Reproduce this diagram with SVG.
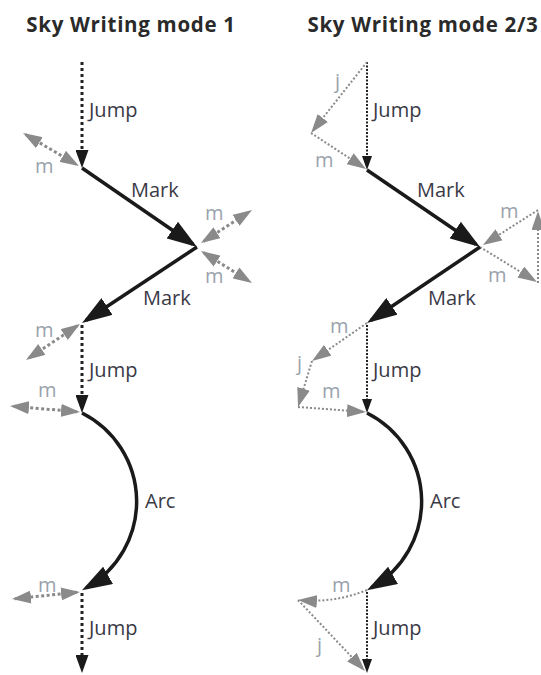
<svg xmlns="http://www.w3.org/2000/svg" width="541" height="675" viewBox="0 0 541 675">
<style>
  .ttl { font-family: "Open Sans", "Liberation Sans", sans-serif; font-weight: bold; font-size: 20.5px; letter-spacing: 0.7px; fill: #2a2a2a; }
  .lbl { font-family: "Open Sans", "Liberation Sans", sans-serif; font-size: 20px; fill: #3a3a46; }
  .sm { font-family: "Open Sans", "Liberation Sans", sans-serif; font-size: 20px; fill: #9aa2ac; }
  .jump1 { fill: none; stroke: #222; stroke-width: 3; stroke-dasharray: 3 3; }
  .jump2 { fill: none; stroke: #222; stroke-width: 2; stroke-dasharray: 2 1.5; }
  .mark { fill: none; stroke: #1a1a1a; stroke-width: 3.5; }
  .m1 { fill: none; stroke: #8a8a8a; stroke-width: 3; stroke-dasharray: 3 2.5; }
  .m2 { fill: none; stroke: #8a8a8a; stroke-width: 2; stroke-dasharray: 2 2; }
</style>
<defs>
  <marker id="ahJump" markerUnits="userSpaceOnUse" viewBox="0 0 18 13" markerWidth="18" markerHeight="13" refX="13" refY="6.5" orient="auto">
    <path d="M0,0 L18,6.5 L0,13 z" fill="#1a1a1a"/>
  </marker>
  <marker id="ahJumpS" markerUnits="userSpaceOnUse" viewBox="0 0 14 10" markerWidth="14" markerHeight="10" refX="10" refY="5" orient="auto">
    <path d="M0,0 L14,5 L0,10 z" fill="#1a1a1a"/>
  </marker>
  <marker id="ahMark" markerUnits="userSpaceOnUse" viewBox="0 0 30 20" markerWidth="30" markerHeight="20" refX="25" refY="10" orient="auto">
    <path d="M0,0 L30,10 L0,20 z" fill="#1a1a1a"/>
  </marker>
  <marker id="ahGray" markerUnits="userSpaceOnUse" viewBox="0 0 19 13" markerWidth="19" markerHeight="13" refX="16" refY="6.5" orient="auto-start-reverse">
    <path d="M0,0 L19,6.5 L0,13 z" fill="#8a8a8a"/>
  </marker>
</defs>

<g id="titles">
  <text class="ttl" x="131" y="32" text-anchor="middle">Sky Writing mode 1</text>
  <text class="ttl" x="423" y="32" text-anchor="middle">Sky Writing mode 2/3</text>
</g>

<g id="connectors">
  <!-- mode 1 -->
  <path class="jump1" d="M82,62 V163" marker-end="url(#ahJump)"/>
  <path class="mark" d="M82,168 L192.9,244.2" marker-end="url(#ahMark)"/>
  <path class="mark" d="M197,247 L86.2,320.2" marker-end="url(#ahMark)"/>
  <path class="jump1" d="M82,325 V408" marker-end="url(#ahJump)"/>
  <path class="mark" d="M82,413 A99,99 0 0 1 86.3,587.7" marker-end="url(#ahMark)"/>
  <path class="jump1" d="M82,593 V668" marker-end="url(#ahJump)"/>
  <path class="m1" d="M25.6,134.5 L76.4,164.5" marker-start="url(#ahGray)" marker-end="url(#ahGray)"/>
  <path class="m1" d="M203.5,241.4 L249.5,211.6" marker-start="url(#ahGray)" marker-end="url(#ahGray)"/>
  <path class="m1" d="M203.5,252.6 L249.5,281.4" marker-start="url(#ahGray)" marker-end="url(#ahGray)"/>
  <path class="m1" d="M77.5,325.7 L28.5,358.3" marker-start="url(#ahGray)" marker-end="url(#ahGray)"/>
  <path class="m1" d="M77,411.7 L13,406.3" marker-start="url(#ahGray)" marker-end="url(#ahGray)"/>
  <path class="m1" d="M77,592.3 L15,598.7" marker-start="url(#ahGray)" marker-end="url(#ahGray)"/>

  <!-- mode 2/3 -->
  <path class="jump2" d="M367,62 V166" marker-end="url(#ahJumpS)"/>
  <path class="m2" d="M367,62 L312.9,130.6" marker-end="url(#ahGray)"/>
  <path class="m2" d="M311,133 L363.5,167.4" marker-end="url(#ahGray)"/>
  <path class="mark" d="M367,170 L475.9,244.2" marker-end="url(#ahMark)"/>
  <path class="m2" d="M480,247 L534.4,280.4" marker-end="url(#ahGray)"/>
  <path class="m2" d="M538,283 V214" marker-end="url(#ahGray)"/>
  <path class="m2" d="M538,210 L485.5,243.4" marker-end="url(#ahGray)"/>
  <path class="mark" d="M480,247 L371.2,320.2" marker-end="url(#ahMark)"/>
  <path class="m2" d="M367,323 L314.5,359.3" marker-end="url(#ahGray)"/>
  <path class="m2" d="M312,361 L298.9,404.1" marker-end="url(#ahGray)"/>
  <path class="m2" d="M298,407 L363,411.8" marker-end="url(#ahGray)"/>
  <path class="jump2" d="M367,325 V409" marker-end="url(#ahJumpS)"/>
  <path class="mark" d="M367,413 A99,99 0 0 1 371.3,587.7" marker-end="url(#ahMark)"/>
  <path class="m2" d="M367,590 Q335,603 301,600.2" marker-end="url(#ahGray)"/>
  <path class="m2" d="M298,600 L362.9,668.8" marker-end="url(#ahGray)"/>
  <path class="jump2" d="M367,592 V669" marker-end="url(#ahJumpS)"/>
</g>

<g id="labels-mode1">
  <text class="lbl" x="89" y="117">Jump</text>
  <text class="sm" x="35" y="173">m</text>
  <text class="lbl" x="131" y="197">Mark</text>
  <text class="sm" x="205" y="220">m</text>
  <text class="sm" x="205" y="283">m</text>
  <text class="lbl" x="143" y="305">Mark</text>
  <text class="sm" x="35" y="337">m</text>
  <text class="lbl" x="89" y="377">Jump</text>
  <text class="sm" x="38" y="397">m</text>
  <text class="lbl" x="145" y="508">Arc</text>
  <text class="sm" x="38" y="592">m</text>
  <text class="lbl" x="89" y="635">Jump</text>
</g>

<g id="labels-mode23">
  <text class="sm" x="335" y="88">j</text>
  <text class="lbl" x="373" y="117">Jump</text>
  <text class="sm" x="315" y="167">m</text>
  <text class="lbl" x="417" y="197">Mark</text>
  <text class="sm" x="500" y="218">m</text>
  <text class="sm" x="488" y="282">m</text>
  <text class="lbl" x="428" y="305">Mark</text>
  <text class="sm" x="330" y="333">m</text>
  <text class="sm" x="297" y="370">j</text>
  <text class="sm" x="322" y="398">m</text>
  <text class="lbl" x="373" y="377">Jump</text>
  <text class="lbl" x="430" y="508">Arc</text>
  <text class="sm" x="332" y="592">m</text>
  <text class="sm" x="317" y="652">j</text>
  <text class="lbl" x="373" y="635">Jump</text>
</g>
</svg>
